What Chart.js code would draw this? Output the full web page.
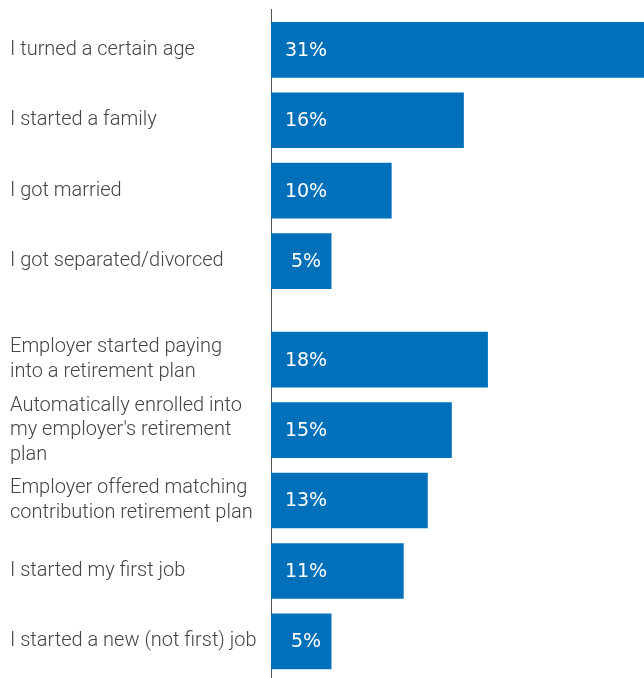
<!DOCTYPE html>
<html>
<head>
<meta charset="utf-8">
<script src="https://cdn.jsdelivr.net/npm/chart.js@4/dist/chart.umd.min.js"></script>
<style>
  html, body { margin: 0; padding: 0; background: #ffffff; }
  #wrap { width: 644px; height: 678px; position: relative; }
</style>
</head>
<body>
<div id="wrap"><canvas id="chart"></canvas></div>
<script>
// reasons given, one row per bar (multi-line labels as arrays)
const reasons = [
    'I turned a certain age',
    'I started a family',
    'I got married',
    'I got separated/divorced',
    ['Employer started paying', 'into a retirement plan'],
    ['Automatically enrolled into', "my employer's retirement", 'plan'],
    ['Employer offered matching', 'contribution retirement plan'],
    'I started my first job',
    'I started a new (not first) job'
]
// which block each row belongs to; a gap is left between blocks
const groups = ['life', 'life', 'life', 'life', 'work', 'work', 'work', 'work', 'work']
const shares = [31, 16, 10, 5, 18, 15, 13, 11, 5]

const barBlue = '#0070ba'
const textGrey = '#444444'

// row positions on the y scale: one unit per bar, a bit extra between blocks
const rowPos = []
let pos = 0
groups.forEach((g, i) => {
    if (i > 0 && g !== groups[i - 1]) pos += 0.4
    rowPos.push(pos)
    pos += 1
})

const points = shares.map((v, i) => ({ x: v, y: rowPos[i] }))

// white percentage written near the start of each bar
const valueLabels = {
    id: 'valueLabels',
    afterDatasetsDraw(chart) {
        const ctx = chart.ctx
        const left = chart.chartArea.left
        ctx.save()
        ctx.font = '19px "DejaVu Sans"'
        ctx.fillStyle = '#ffffff'
        ctx.textAlign = 'center'
        ctx.textBaseline = 'middle'
        chart.getDatasetMeta(0).data.forEach((bar, i) => {
            ctx.fillText(shares[i] + '%', left + 35, bar.y + 1)
        })
        ctx.restore()
    }
}

const ctx = document.getElementById('chart').getContext('2d')
const barChart = new Chart(ctx, {
    type: 'bar',
    data: {
        datasets: [{
            data: points,
            backgroundColor: barBlue,
            borderWidth: 0,
            barThickness: 55
        }]
    },
    options: {
        indexAxis: 'y',
        responsive: true,
        maintainAspectRatio: false,
        animation: false,
        layout: {
            padding: { left: 10, right: 0, top: 9, bottom: 0 }
        },
        scales: {
            x: {
                display: false,
                min: 0,
                max: 31
            },
            y: {
                type: 'linear',
                reverse: true,
                offset: false,
                min: -0.58,
                max: 8.92,
                grid: { display: false },
                border: { display: true, color: '#555555', width: 1 },
                afterBuildTicks: (scale) => {
                    scale.ticks = rowPos.map(p => ({ value: p }))
                },
                afterFit: (scale) => {
                    scale.width = 261
                    scale.paddingTop = 0
                    scale.paddingBottom = 0
                },
                ticks: {
                    autoSkip: false,
                    crossAlign: 'far',
                    padding: 0,
                    color: textGrey,
                    font: { family: 'Roboto', size: 20, weight: '300', lineHeight: 1.22 },
                    callback: (value, index) => reasons[index]
                }
            }
        },
        plugins: {
            legend: { display: false },
            tooltip: { enabled: false }
        }
    },
    plugins: [valueLabels]
})
</script>
</body>
</html>
